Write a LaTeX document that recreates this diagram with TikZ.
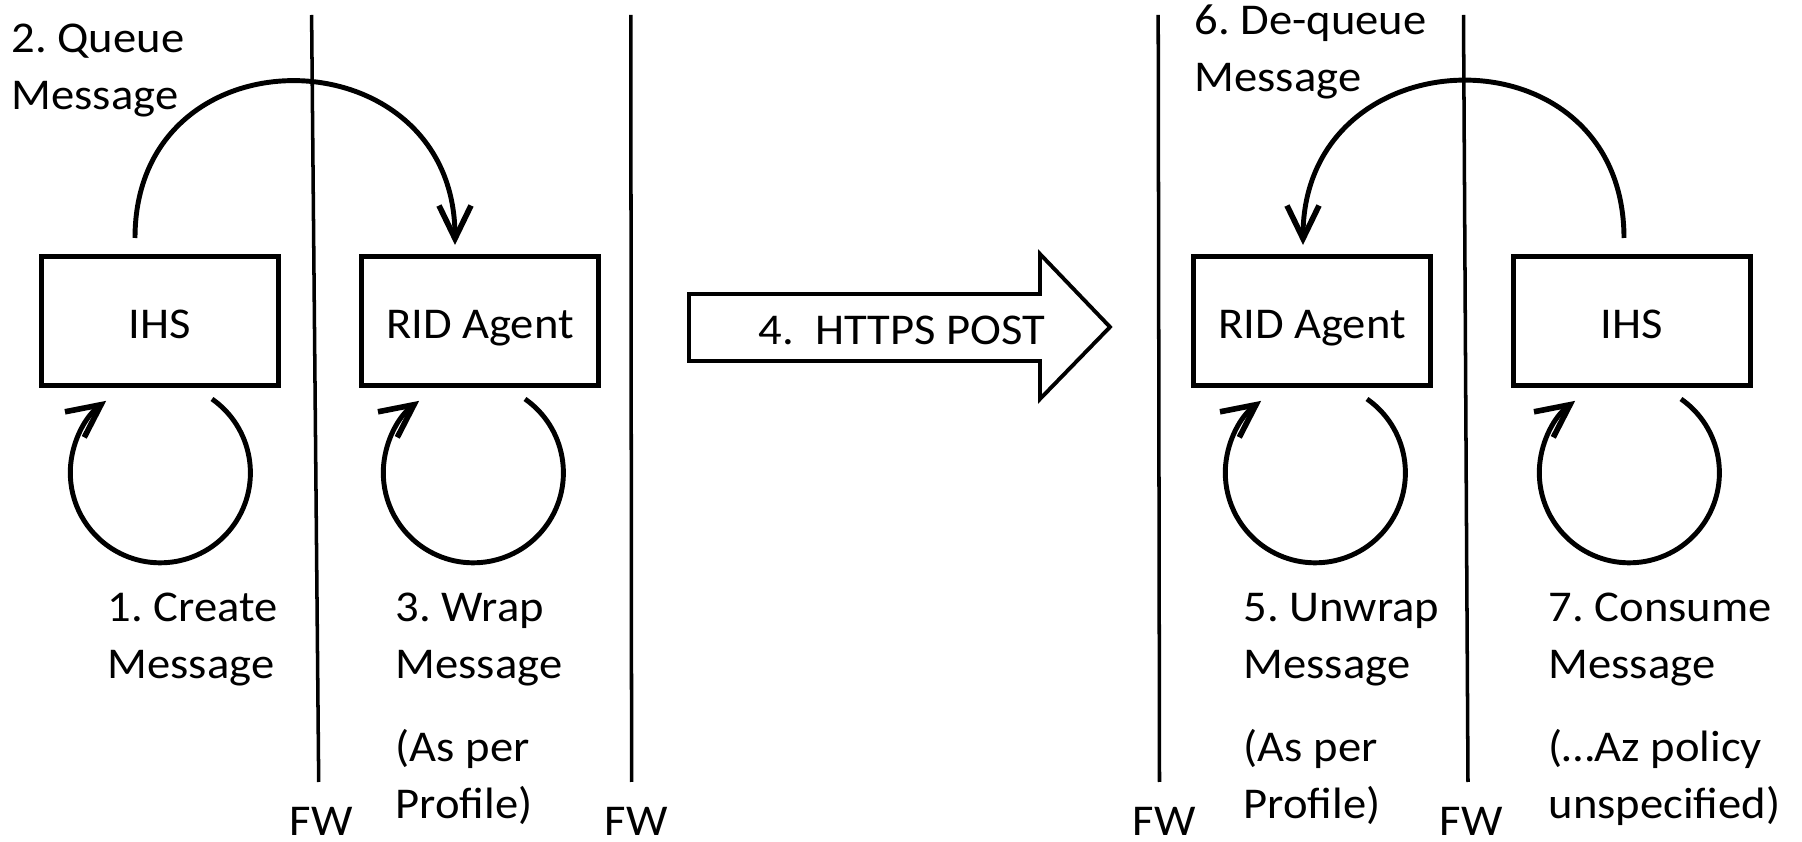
\documentclass[tikz,border=0pt]{standalone}
\usepackage{fontspec}
\setmainfont{Carlito}[FakeStretch=1.06]
\usetikzlibrary{arrows.meta}
\frenchspacing

\begin{document}
\begin{tikzpicture}[x=0.01cm, y=0.01cm,
    font=\fontsize{12.5pt}{16.1pt}\selectfont,
    box/.style={draw, line width=1.4pt, minimum width=2.36cm, minimum height=1.29cm, text height=4.4mm, text depth=1mm},
    flow/.style={line width=1.4pt, -{Straight Barb[length=3.3mm, width=3.2mm, line width=1.6pt]}},
    wall/.style={line width=1pt},
    lab/.style={anchor=base west, align=left, inner sep=0pt}]
    \useasboundingbox (0,0) rectangle (1802,842);

    \draw[wall] (311.6,827) -- (318.7,60);
    \node[lab] (fwA) at (289,6) {FW};
    \draw[wall] (630.8,827) -- (631.6,60);
    \node[lab] (fwB) at (604,6) {FW};
    \draw[wall] (1158.2,827) -- (1159.5,60);
    \node[lab] (fwC) at (1132,6) {FW};
    \draw[wall] (1463.5,827) -- (1468,60);
    \node[lab] (fwD) at (1439,6) {FW};

    \node[box] (ihsA) at (160,521) {IHS};
    \node[box] (ridA) at (480,521) {RID Agent};
    \node[box] (ridB) at (1312,521) {RID Agent};
    \node[box] (ihsB) at (1632,521) {IHS};

    \draw[flow] ([shift={(-25,16)}]ihsA.north) to[out=90, in=90, looseness=1.7] ([shift={(-25,9)}]ridA.north);
    \draw[flow] ([shift={(-8,16)}]ihsB.north) to[out=90, in=90, looseness=1.7] ([shift={(-9,9)}]ridB.north);

    \draw[flow] ([shift={(52,-11)}]ihsA.south) arc[start angle=55, end angle=-233, radius=0.9cm];
    \draw[flow] ([shift={(45,-11)}]ridA.south) arc[start angle=55, end angle=-233, radius=0.9cm];
    \draw[flow] ([shift={(55,-11)}]ridB.south) arc[start angle=55, end angle=-233, radius=0.9cm];
    \draw[flow] ([shift={(49,-11)}]ihsB.south) arc[start angle=55, end angle=-233, radius=0.9cm];

    \draw[line width=1.1pt] (689,548) -- (1040,548) -- (1040,588) -- (1110,515) -- (1040,443) -- (1040,481) -- (689,481) -- cycle;
    \node[lab] (post) at (758,497) {4.\ \ HTTPS POST};

    \node[lab] (queue) at (11,732.5) {2. Queue\\Message};
    \node[lab] (dequeue) at (1194,750.5) {6. De-queue\\Message};
    \node[lab] (create) at (107,163.5) {1. Create\\Message};
    \node[lab] (wrap) at (395,163.5) {3. Wrap\\Message};
    \node[lab] (profA) at (395,23.5) {(As per\\Profile)};
    \node[lab] (unwrap) at (1243,163.5) {5. Unwrap\\Message};
    \node[lab] (consume) at (1548,163.5) {7. Consume\\Message};
    \node[lab] (profB) at (1243,23.5) {(As per\\Profile)};
    \node[lab] (policy) at (1548,23.5) {(…Az policy\\unspecified)};
\end{tikzpicture}
\end{document}
